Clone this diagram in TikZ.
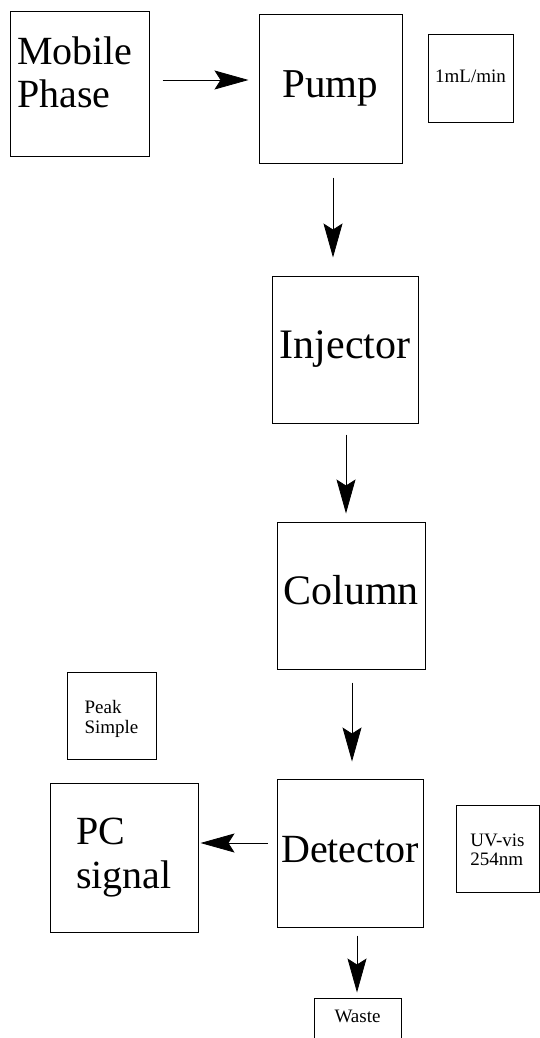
\documentclass[tikz,border=0pt]{standalone}
\usepackage{fontspec}
\setmainfont{Liberation Serif}
\usetikzlibrary{arrows.meta}
\tikzset{
  box/.style={draw, line width=1pt, inner sep=0pt},
  bigbox/.style={box, font=\fontsize{40}{43}\selectfont, text height=27pt, text depth=9pt},
  smallbox/.style={box, font=\fontsize{19}{19}\selectfont, align=left},
  flow/.style={line width=0.8pt, -{Stealth[length=34pt,width=19pt,inset=6pt]}}
}
\begin{document}
\begin{tikzpicture}[x=1pt,y=-1pt]
\useasboundingbox (0,0) rectangle (539,1038);
% instruments
\node[box, font=\fontsize{40}{43}\selectfont, text width=125pt, align=left, text height=27pt, text depth=65pt, minimum width=139pt, minimum height=144pt] (mobile) at (79.5,84) {Mobile\\Phase};
\node[bigbox, font=\fontsize{41}{43}\selectfont, minimum width=143pt, minimum height=148pt] (pump) at (330.5,89) {Pump};
\node[bigbox, font=\fontsize{42}{43}\selectfont, minimum width=146pt, minimum height=147pt] (injector) at (345,349.5) {Injector};
\node[bigbox, font=\fontsize{42}{43}\selectfont, minimum width=148pt, minimum height=147pt] (column) at (351,595.5) {Column};
\node[bigbox, minimum width=146pt, minimum height=148pt] (detector) at (350,853) {Detector};
\node[box, font=\fontsize{40}{44}\selectfont, align=left, text height=71pt, text depth=9pt, minimum width=148pt, minimum height=149pt] (pc) at (124,857.5) {PC\\signal};
% notes
\node[smallbox, text height=13pt, text depth=5pt, minimum width=85pt, minimum height=88pt] (rate) at (470.5,79) {1mL/min};
\node[smallbox, font=\fontsize{19}{20}\selectfont, text height=40pt, text depth=5pt, minimum width=89pt, minimum height=87pt] (peak) at (111.5,715.5) {Peak\\Simple};
\node[smallbox, text height=37pt, text depth=4pt, minimum width=83pt, minimum height=87pt] (uv) at (497.5,848.5) {UV-vis\\254nm};
\node[smallbox, text height=13pt, text depth=15pt, minimum width=87pt, minimum height=50pt] (waste) at (357.5,1023) {Waste};
% flow
\draw[flow, shorten <=13pt, shorten >=10pt] ([yshift=4pt]mobile.east) -- ([yshift=4pt]mobile.east -| pump.west);
\draw[flow, shorten <=14pt, shorten >=18pt] ([xshift=2.5pt]pump.south) -- ([xshift=2.5pt]pump.south |- injector.north);
\draw[flow, shorten <=11pt, shorten >=8pt] ([xshift=1pt]injector.south) -- ([xshift=1pt]injector.south |- column.north);
\draw[flow, shorten <=13pt, shorten >=17pt] ([xshift=1pt]column.south) -- ([xshift=1pt]column.south |- detector.north);
\draw[flow, shorten <=9pt, shorten >=2pt] ([yshift=10pt]detector.west) -- ([yshift=10pt]detector.west -| pc.east);
\draw[flow, shorten <=8pt, shorten >=5pt] ([xshift=7pt]detector.south) -- ([xshift=7pt]detector.south |- waste.north);
\end{tikzpicture}
\end{document}
